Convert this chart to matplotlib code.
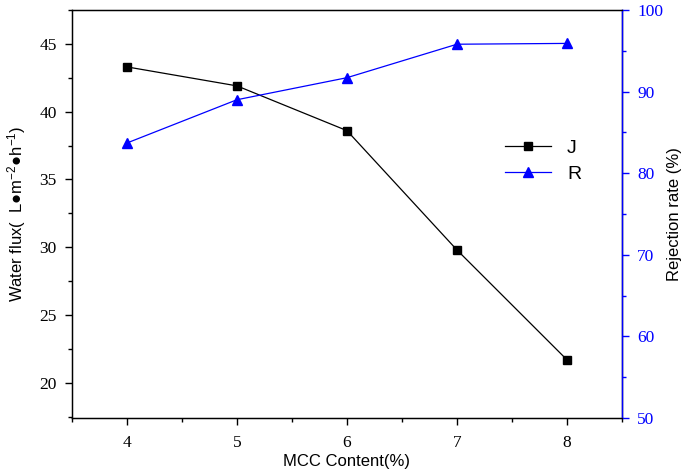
import matplotlib
matplotlib.use("Agg")
import matplotlib.pyplot as plt
from matplotlib.ticker import MultipleLocator

# data
mcc = [4, 5, 6, 7, 8]
flux_j = [43.3, 41.9, 38.6, 29.8, 21.7]
rejection_r = [83.7, 89.0, 91.7, 95.8, 95.9]

plt.rcParams['mathtext.fontset'] = 'custom'
plt.rcParams['mathtext.rm'] = 'Liberation Sans'
plt.rcParams['mathtext.it'] = 'Liberation Sans'

fig = plt.figure(figsize=(6.85, 4.73), dpi=100)
ax = fig.add_axes([0.105, 0.116, 0.803, 0.863])
ax2 = ax.twinx()

l1, = ax.plot(mcc, flux_j, color='black', lw=0.9, marker='s', ms=6, label='J')
l2, = ax2.plot(mcc, rejection_r, color='blue', lw=0.9, marker='^', ms=7, label='R')

ax.set_xlim(3.5, 8.5)
ax.set_ylim(17.4, 47.5)
ax2.set_ylim(50, 100)

ax.xaxis.set_major_locator(MultipleLocator(1))
ax.xaxis.set_minor_locator(MultipleLocator(0.5))
ax.yaxis.set_major_locator(MultipleLocator(5))
ax.yaxis.set_minor_locator(MultipleLocator(2.5))
ax2.yaxis.set_major_locator(MultipleLocator(10))
ax2.yaxis.set_minor_locator(MultipleLocator(5))

for lab in ax.get_xticklabels() + ax.get_yticklabels():
    lab.set_fontfamily('Liberation Serif')
    lab.set_fontsize(12.5)
for lab in ax2.get_yticklabels():
    lab.set_fontfamily('Liberation Serif')
    lab.set_fontsize(12.5)
    lab.set_color('blue')

ax.tick_params(which='major', direction='out', length=5, width=1)
ax.tick_params(which='minor', direction='out', length=3, width=1)
ax.tick_params(axis='x', pad=7)
ax.tick_params(axis='y', pad=6)
ax2.tick_params(which='major', direction='out', length=5, width=1, colors='blue', pad=6)
ax2.tick_params(which='minor', direction='out', length=3, width=1, colors='blue')

for s in ax.spines.values():
    s.set_linewidth(1)
ax2.spines['right'].set_color('blue')
ax2.spines['right'].set_linewidth(1)

ax.set_xlabel('MCC Content(%)', fontsize=12, family='Liberation Sans', labelpad=2)
ax.set_ylabel('Water flux(  L●m$^{-2}$●h$^{-1}$)', fontsize=12,
              family='Liberation Sans', labelpad=8)
ax2.set_ylabel('Rejection rate (%)', fontsize=12, family='Liberation Sans', labelpad=3)

ax.legend([l1, l2], ['J', 'R'], loc='upper left', bbox_to_anchor=(0.755, 0.725),
          frameon=False, prop={'family': 'Liberation Sans', 'size': 14},
          handlelength=2.4, labelspacing=0.4)

plt.savefig("out.png", dpi=100)
